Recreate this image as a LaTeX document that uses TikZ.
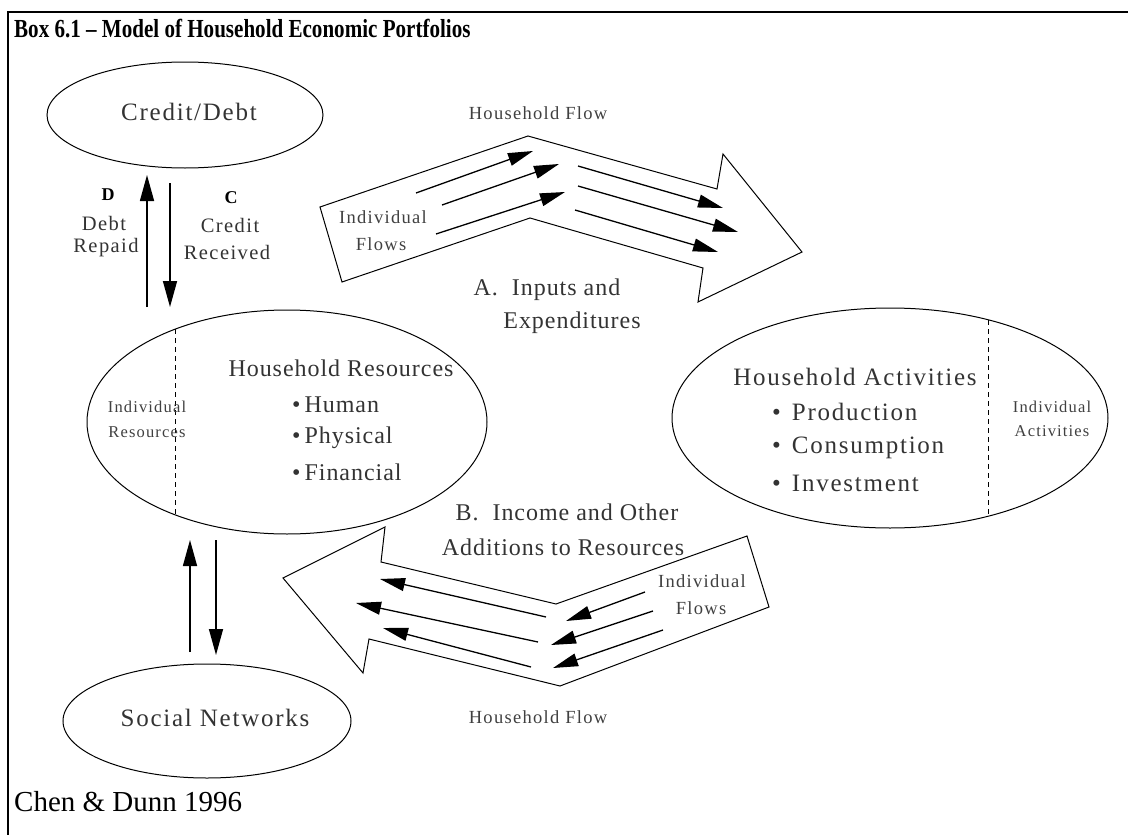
\documentclass[tikz,border=0pt]{standalone}
\usepackage{fontspec}
\setmainfont{Liberation Serif}
\newfontfamily\lsf[LetterSpace=4]{Liberation Serif}
\newfontfamily\lsw[LetterSpace=7]{Liberation Serif}
\newfontfamily\titlef[FakeStretch=0.81]{Liberation Serif}
\usetikzlibrary{arrows.meta,shapes.geometric}
\begin{document}
\begin{tikzpicture}[x=1pt,y=-1pt,
  ell/.style={draw, ellipse, line width=1pt, inner sep=0pt},
  big/.style={font=\lsf\fontsize{24}{26}\selectfont, text=black!80, inner sep=0pt},
  lab/.style={font=\lsw\fontsize{25}{27}\selectfont, text=black!80, inner sep=0pt},
  mid/.style={font=\lsw\fontsize{20.5}{22}\selectfont, text=black!80, inner sep=0pt},
  sml/.style={font=\lsw\fontsize{18.5}{20}\selectfont, text=black!75, inner sep=0pt},
  tiny/.style={font=\lsw\fontsize{16.5}{18}\selectfont, text=black!75, inner sep=0pt},
  vflow/.style={line width=1.5pt, -{Triangle[length=26pt,width=14pt]}},
  iflow/.style={line width=1.3pt, -{Triangle[length=25pt,width=13pt]}},
  bigarrow/.style={draw, line width=1pt, line join=miter},
  sep/.style={dash pattern=on 5pt off 4pt, line width=1pt}
]
\useasboundingbox (0,0) rectangle (1128,835);
% frame
\draw[line width=2pt] (8,835) -- (8,11.5) -- (1128,11.5);
\node[anchor=base west, inner sep=0pt, font=\titlef\bfseries\fontsize{26}{28}\selectfont] (title) at (14,37) {Box 6.1 – Model of Household Economic Portfolios};
\node[anchor=base west, inner sep=0pt, font=\fontsize{29}{31}\selectfont] (src) at (14,811) {Chen \& Dunn 1996};

% ellipses
\node[ell, minimum width=276pt, minimum height=106pt] (cd) at (185,115) {};
\node[lab] at (189,112) {Credit/Debt};

\node[ell, minimum width=400pt, minimum height=224pt] (res) at (287,422) {};
\draw[sep] (175,329) -- (175,515);
\node[big] (hr) at (341,368) {Household Resources};
\node[big, anchor=west] at (292,405) {•\hspace{4pt}Human};
\node[big, anchor=west] at (292,438) {•\hspace{4pt}Physical};
\node[big, anchor=west] at (292,472) {•\hspace{4pt}Financial};
\node[tiny] at (147,407) {Individual};
\node[tiny] at (147,432) {Resources};

\node[ell, minimum width=436pt, minimum height=220pt] (act) at (890,418) {};
\draw[sep] (988,320) -- (988,516);
\node[lab] (ha) at (855,377) {Household Activities};
\node[lab, anchor=west] at (772,412) {•\hspace{11pt}Production};
\node[lab, anchor=west] at (772,448) {•\hspace{11pt}Consumption};
\node[lab, anchor=west] at (772,483) {•\hspace{11pt}Investment};
\node[tiny] at (1052,407) {Individual};
\node[tiny] at (1052,431) {Activities};

\node[ell, minimum width=288pt, minimum height=114pt] (sn) at (207,721) {};
\node[lab] at (215,718) {Social Networks};

% credit / debt arrows
\coordinate (d0) at (147,307); \coordinate (d1) at (147,175);
\coordinate (c0) at (170,183); \coordinate (c1) at (170,307);
\draw[vflow] (d0) -- (d1);
\draw[vflow] (c0) -- (c1);
\node[font=\bfseries\fontsize{18}{20}\selectfont, inner sep=0pt] at (108,195) {D};
\node[mid] at (104,223) {Debt};
\node[mid] at (106,248) {Repaid};
\node[font=\bfseries\fontsize{18}{20}\selectfont, inner sep=0pt] at (231,198) {C};
\node[mid] at (230,225) {Credit};
\node[mid] at (227,252) {Received};

% social network arrows
\coordinate (s0) at (190,652); \coordinate (s1) at (190,540);
\coordinate (t0) at (216,540); \coordinate (t1) at (216,655);
\draw[vflow] (s0) -- (s1);
\draw[vflow] (t0) -- (t1);

% top big arrow
\draw[bigarrow] (320,207) -- (528,136) -- (717,189) -- (723,154) -- (802,252) -- (698,302) -- (703,268) -- (530,218) -- (342,282) -- cycle;
\draw[iflow] (416,193) -- (533,151);
\draw[iflow] (442,205) -- (559,164);
\draw[iflow] (436,234) -- (565,192);
\draw[iflow] (578,166) -- (723,208);
\draw[iflow] (578,186) -- (738,232);
\draw[iflow] (575,210) -- (718,252);
\node[sml] at (538,113) {Household Flow};
\node[sml] at (383,217) {Individual};
\node[sml] at (381,244) {Flows};
\node[big] at (547,290) {A.\ \ Inputs and};
\node[big] at (572,323) {Expenditures};

% bottom big arrow
\draw[bigarrow] (283,578) -- (385,527) -- (381,562) -- (556,604) -- (747,536) -- (769,607) -- (560,686) -- (369,639) -- (363,673) -- cycle;
\draw[iflow] (645,592) -- (566,621);
\draw[iflow] (653,611) -- (551,645);
\draw[iflow] (663,630) -- (553,668);
\draw[iflow] (546,617) -- (380,579);
\draw[iflow] (538,642) -- (356,603);
\draw[iflow] (531,667) -- (383,628);
\node[sml] at (702,581) {Individual};
\node[sml] at (701,608) {Flows};
\node[sml] at (538,717) {Household Flow};
\node[big] at (567,512) {B.\ \ Income and Other};
\node[big] at (563,547) {Additions to Resources};
\end{tikzpicture}
\end{document}
